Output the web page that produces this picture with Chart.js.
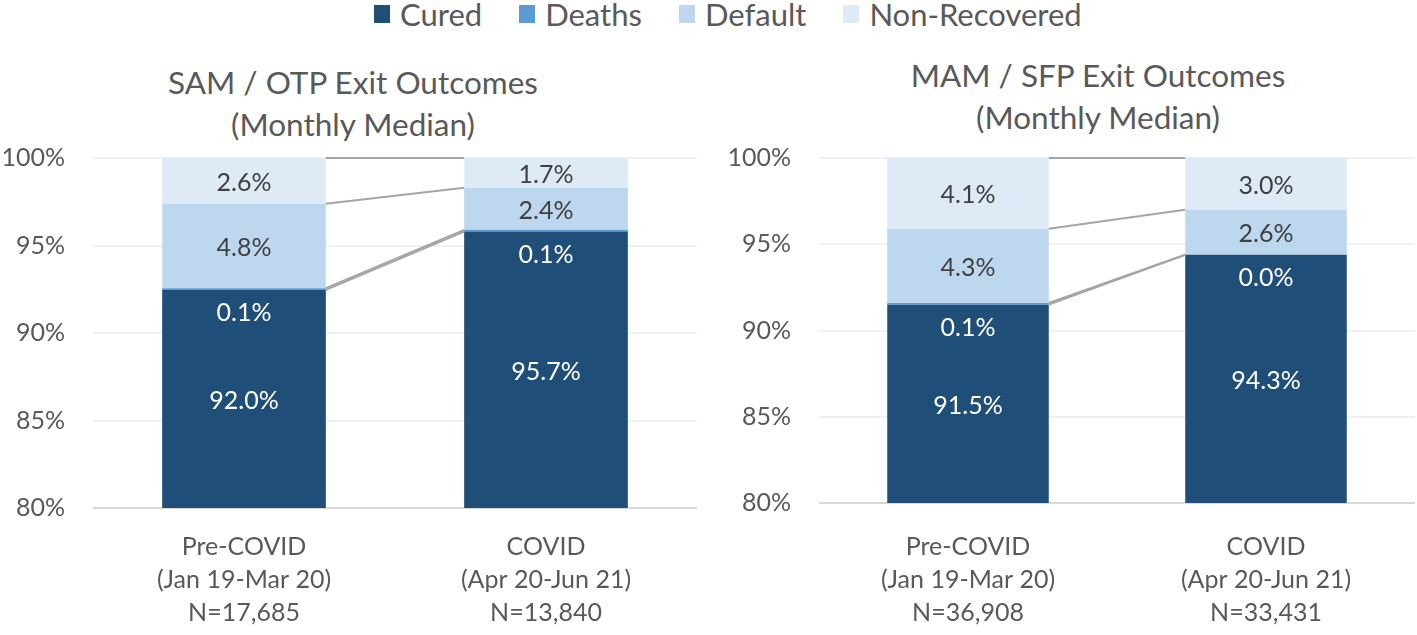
<!DOCTYPE html>
<html>
<head>
<meta charset="utf-8">
<title>Exit Outcomes</title>
<script src="https://cdn.jsdelivr.net/npm/chart.js@4.4.1/dist/chart.umd.min.js"></script>
<style>
  body { margin: 0; background: #fff; }
  #wrap { position: relative; width: 1417px; height: 635px; overflow: hidden; font-family: Lato, sans-serif; }
  canvas { position: absolute; top: 115px; }
  .title { position: absolute; width: 600px; text-align: center; color: #595959; font-size: 31.5px; line-height: 42px; }
  #legend { position: absolute; top: 0; left: 374px; display: flex; align-items: center; height: 28px; color: #595959; font-size: 31px; }
  #legend .item { display: flex; align-items: center; margin-right: 37px; }
  #legend .box { width: 16px; height: 18px; margin-right: 10px; }
</style>
</head>
<body>
<div id="wrap">
  <div id="legend"></div>
  <div class="title" style="left:53px; top:61px;">SAM / OTP Exit Outcomes<br>(Monthly Median)</div>
  <div class="title" style="left:798px; top:54px;">MAM / SFP Exit Outcomes<br>(Monthly Median)</div>
  <canvas id="sam" width="705" height="520" style="left:0px;"></canvas>
  <canvas id="mam" width="691" height="520" style="left:726px;"></canvas>
</div>
<script>
// Categories and tick labels
const periods = ['Pre-COVID', 'COVID'];
const periodRanges = ['(Jan 19-Mar 20)', '(Apr 20-Jun 21)'];
const samN = ['N=17,685', 'N=13,840'];
const mamN = ['N=36,908', 'N=33,431'];
const yTicks = [80, 85, 90, 95, 100];

// Series (monthly median %, as labelled)
const seriesNames = ['Cured', 'Deaths', 'Default', 'Non-Recovered'];
const samCured = [92.0, 95.7];
const samDeaths = [0.1, 0.1];
const samDefault = [4.8, 2.4];
const samNonRecovered = [2.6, 1.7];
const mamCured = [91.5, 94.3];
const mamDeaths = [0.1, 0.0];
const mamDefault = [4.3, 2.6];
const mamNonRecovered = [4.1, 3.0];

const seriesColors = ['#1F4E79', '#5B9BD5', '#BDD7EE', '#DEEBF7'];
const labelColors = ['#FFFFFF', '#FFFFFF', '#404040', '#404040'];
const FONT = 'Lato';

// HTML legend shared by both charts
const legendEl = document.getElementById('legend');
seriesNames.forEach((name, i) => {
  const item = document.createElement('div');
  item.className = 'item';
  item.innerHTML = '<span class="box" style="background:' + seriesColors[i] + '"></span><span>' + name + '</span>';
  legendEl.appendChild(item);
});

// value labels inside each segment
const segmentLabels = {
  id: 'segmentLabels',
  afterDatasetsDraw(chart) {
    const ctx = chart.ctx;
    const area = chart.chartArea;
    ctx.save();
    ctx.font = '25px ' + FONT;
    ctx.textAlign = 'center';
    ctx.textBaseline = 'middle';
    chart.data.datasets.forEach((ds, i) => {
      chart.getDatasetMeta(i).data.forEach((bar, j) => {
        const top = Math.max(bar.y, area.top);
        const bottom = Math.min(bar.base, area.bottom);
        let y = (top + bottom) / 2;
        // Deaths slice is too thin, its label sits just under it
        if (ds.thin) y = bottom + 21;
        ctx.fillStyle = ds.labelColor;
        ctx.fillText(ds.raw[j].toFixed(1) + '%', bar.x, y + 2);
      });
    });
    ctx.restore();
  }
};

// Excel-style series lines joining the segment tops
const seriesLines = {
  id: 'seriesLines',
  afterDatasetsDraw(chart) {
    const ctx = chart.ctx;
    ctx.save();
    ctx.strokeStyle = '#A5A5A5';
    ctx.lineWidth = 2;
    chart.data.datasets.forEach((ds, i) => {
      const bars = chart.getDatasetMeta(i).data;
      for (let j = 0; j < bars.length - 1; j++) {
        const a = bars[j], b = bars[j + 1];
        ctx.beginPath();
        ctx.moveTo(a.x + a.width / 2, a.y);
        ctx.lineTo(b.x - b.width / 2, b.y);
        ctx.stroke();
      }
    });
    ctx.restore();
  }
};

function makeChart(id, series, nLabels, opts) {
  // 100% stacked: each column is scaled to its own total
  const totals = periods.map((p, j) => series.reduce((s, arr) => s + arr[j], 0));
  const datasets = series.map((arr, i) => ({
    label: seriesNames[i],
    data: arr.map((v, j) => v / totals[j] * 100),
    raw: arr,
    thin: i === 1,
    labelColor: labelColors[i],
    backgroundColor: seriesColors[i],
    borderWidth: 0,
    categoryPercentage: 1.0,
    barPercentage: 0.542
  }));

  return new Chart(document.getElementById(id), {
    type: 'bar',
    data: {
      labels: periods.map((p, j) => [p, periodRanges[j], nLabels[j]]),
      datasets
    },
    options: {
      responsive: false,
      animation: false,
      devicePixelRatio: 1,
      layout: { padding: { top: opts.top, right: opts.right, left: 0, bottom: 0 } },
      scales: {
        x: {
          stacked: true,
          grid: { display: false, drawTicks: false },
          border: { display: false },
          ticks: {
            color: '#595959',
            padding: opts.xPad,
            maxRotation: 0,
            font: { family: FONT, size: 25, lineHeight: 1.32 }
          },
          afterFit(axis) { axis.height = opts.xHeight; }
        },
        y: {
          stacked: true,
          min: 80,
          max: 100,
          border: { display: false },
          grid: {
            drawTicks: false,
            lineWidth: 2,
            color: c => (c.tick && c.tick.value === 80) ? '#D9D9D9' : '#F0F0F0'
          },
          ticks: {
            color: '#595959',
            padding: 28,
            font: { family: FONT, size: 25 },
            callback: v => v + '%'
          },
          afterBuildTicks(axis) { axis.ticks = yTicks.map(v => ({ value: v })); },
          afterFit(axis) { axis.width = 93; }
        }
      },
      plugins: {
        legend: { display: false },
        tooltip: { enabled: false }
      }
    },
    plugins: [seriesLines, segmentLabels]
  });
}

makeChart('sam', [samCured, samDeaths, samDefault, samNonRecovered], samN,
  { top: 18, right: 8, xHeight: 127, xPad: 22 });
makeChart('mam', [mamCured, mamDeaths, mamDefault, mamNonRecovered], mamN,
  { top: 19, right: 2, xHeight: 132, xPad: 27 });
</script>
</body>
</html>
